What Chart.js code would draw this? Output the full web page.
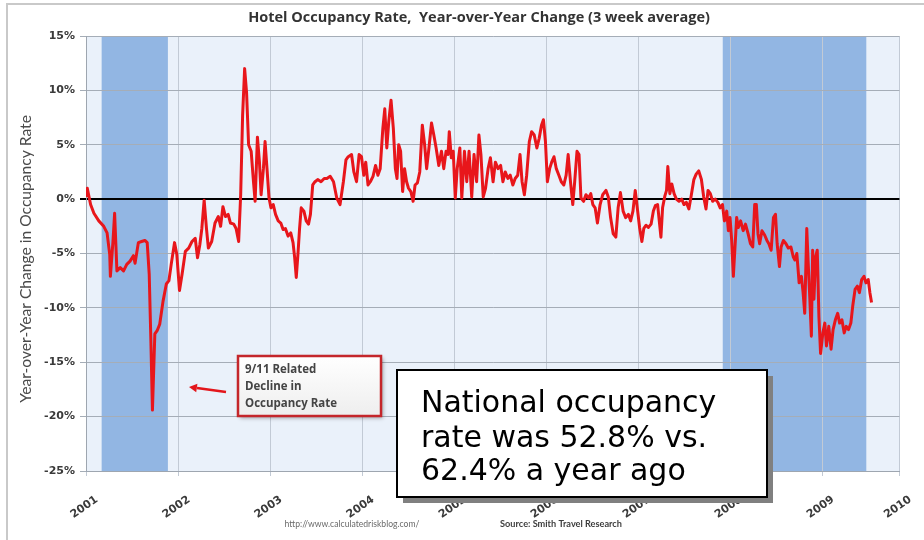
<!DOCTYPE html>
<html>
<head>
<meta charset="utf-8">
<script src="https://cdn.jsdelivr.net/npm/chart.js@4/dist/chart.umd.min.js"></script>
<style>
  html, body { margin: 0; padding: 0; background: #ffffff; }
  #wrap { width: 924px; height: 540px; }
</style>
</head>
<body>
<div id="wrap"><canvas id="chart" width="924" height="540"></canvas></div>
<script>
// Weekly hotel occupancy, year-over-year change (3 week average), in percent.
// Dates are decimal years.
const weekYear = [
  2001.000, 2001.014, 2001.050, 2001.086, 2001.139, 2001.193, 2001.229, 2001.258, 2001.265, 2001.293,
  2001.311, 2001.336, 2001.372, 2001.408, 2001.443, 2001.479, 2001.515, 2001.533, 2001.569, 2001.604,
  2001.640, 2001.665, 2001.687, 2001.705, 2001.722, 2001.748, 2001.773, 2001.801, 2001.837, 2001.873,
  2001.901, 2001.926, 2001.962, 2001.987, 2002.016, 2002.044, 2002.080, 2002.116, 2002.152, 2002.187,
  2002.212, 2002.237, 2002.259, 2002.284, 2002.309, 2002.330, 2002.366, 2002.402, 2002.438, 2002.463,
  2002.488, 2002.516, 2002.545, 2002.570, 2002.606, 2002.631, 2002.659, 2002.681, 2002.702, 2002.724,
  2002.745, 2002.767, 2002.795, 2002.820, 2002.838, 2002.863, 2002.885, 2002.903, 2002.928, 2002.946,
  2002.967, 2002.989, 2003.010, 2003.035, 2003.060, 2003.089, 2003.117, 2003.142, 2003.167, 2003.196,
  2003.225, 2003.250, 2003.268, 2003.285, 2003.303, 2003.321, 2003.339, 2003.368, 2003.393, 2003.418,
  2003.439, 2003.464, 2003.489, 2003.518, 2003.554, 2003.589,
  2003.618, 2003.654, 2003.690, 2003.725, 2003.761, 2003.797, 2003.825, 2003.850, 2003.886, 2003.911,
  2003.940, 2003.968, 2003.994, 2004.019, 2004.040, 2004.065, 2004.090, 2004.119, 2004.147, 2004.172,
  2004.197, 2004.226, 2004.247, 2004.269, 2004.290, 2004.315, 2004.340, 2004.362, 2004.380, 2004.398,
  2004.419, 2004.441, 2004.462, 2004.484, 2004.505, 2004.530, 2004.555, 2004.576, 2004.602, 2004.627,
  2004.655, 2004.680, 2004.702, 2004.727, 2004.755, 2004.780, 2004.805, 2004.834, 2004.863, 2004.888,
  2004.913, 2004.934, 2004.948, 2004.970, 2004.991, 2005.013, 2005.034, 2005.063, 2005.084, 2005.113,
  2005.138, 2005.163, 2005.192, 2005.217, 2005.245, 2005.270, 2005.292, 2005.317, 2005.342, 2005.370,
  2005.395, 2005.424, 2005.449, 2005.478, 2005.506, 2005.531, 2005.556, 2005.585, 2005.610, 2005.639,
  2005.664, 2005.692, 2005.717, 2005.739, 2005.764, 2005.789, 2005.818, 2005.843, 2005.871, 2005.900,
  2005.925, 2005.950, 2005.971, 2005.993, 2006.014, 2006.039, 2006.061, 2006.086, 2006.111, 2006.139,
  2006.165, 2006.193, 2006.218, 2006.240, 2006.265, 2006.290, 2006.311, 2006.336, 2006.358, 2006.379,
  2006.408, 2006.433, 2006.461, 2006.486, 2006.508, 2006.533, 2006.558, 2006.587, 2006.615,
  2006.651, 2006.676, 2006.701, 2006.730, 2006.758, 2006.783, 2006.808, 2006.837, 2006.865, 2006.894,
  2006.919, 2006.944, 2006.969, 2006.991, 2007.016, 2007.041, 2007.062, 2007.087, 2007.112, 2007.141,
  2007.166, 2007.187, 2007.212, 2007.230, 2007.248, 2007.266, 2007.291, 2007.309, 2007.323, 2007.345,
  2007.366, 2007.391, 2007.416, 2007.445, 2007.474, 2007.499, 2007.524, 2007.552, 2007.577, 2007.606,
  2007.631, 2007.659, 2007.688, 2007.713, 2007.738, 2007.760, 2007.785, 2007.810, 2007.838, 2007.867,
  2007.892, 2007.917, 2007.938, 2007.963, 2007.981, 2007.999, 2008.017, 2008.035, 2008.053, 2008.071,
  2008.089, 2008.114, 2008.142, 2008.167, 2008.196, 2008.221, 2008.246, 2008.267, 2008.285, 2008.303,
  2008.321, 2008.346, 2008.375, 2008.400, 2008.421, 2008.446, 2008.471, 2008.493, 2008.511, 2008.536,
  2008.554, 2008.579, 2008.607, 2008.632, 2008.661, 2008.686, 2008.704, 2008.725, 2008.750, 2008.775,
  2008.793, 2008.811, 2008.833, 2008.847, 2008.865, 2008.883, 2008.897, 2008.911, 2008.929, 2008.947,
  2008.965, 2008.983, 2009.008, 2009.029, 2009.047, 2009.072, 2009.097, 2009.119, 2009.144, 2009.169,
  2009.190, 2009.215, 2009.240, 2009.262, 2009.287, 2009.312, 2009.333, 2009.358, 2009.383, 2009.405,
  2009.430, 2009.455, 2009.476, 2009.501, 2009.519, 2009.537
];

const occupancyChange = [
  0.2, 1.0, -0.5, -1.3, -2.0, -2.5, -3.1, -5.1, -7.1, -3.9,
  -1.3, -6.6, -6.3, -6.6, -6.0, -5.7, -5.2, -5.9, -4.0, -3.9,
  -3.8, -4.0, -6.9, -13.0, -19.4, -12.4, -12.1, -11.5, -9.4, -7.8,
  -7.5, -6.0, -4.0, -5.1, -8.4, -6.9, -4.8, -4.5, -3.9, -3.6,
  -5.4, -4.2, -2.7, -0.1, -2.7, -4.5, -3.9, -2.2, -1.6, -2.5,
  -0.7, -1.6, -1.4, -2.2, -2.3, -2.7, -3.9, 0.4, 7.7, 12.0,
  9.8, 5.0, 4.4, 1.6, -0.2, 5.7, 3.4, 0.4, 2.8, 5.3,
  2.8, 0.1, -0.8, -0.5, -1.4, -2.0, -2.2, -2.8, -2.7, -3.4,
  -3.1, -4.0, -5.4, -7.2, -5.1, -2.7, -0.8, -1.1, -2.0, -2.3,
  -1.4, 1.3, 1.6, 1.8, 1.6, 1.9,
  1.9, 2.1, 1.6, 0.1, -0.5, 1.6, 3.6, 3.9, 4.1, 2.5,
  1.6, 4.1, 3.9, 2.2, 3.4, 1.3, 1.6, 2.1, 3.1, 2.2,
  2.8, 6.5, 8.3, 4.7, 7.1, 9.1, 6.5, 2.8, 1.9, 5.0,
  4.4, 0.7, 2.8, 1.6, 1.0, 0.7, -0.2, 1.3, 1.5, 2.5,
  6.8, 5.0, 2.8, 4.7, 7.0, 5.9, 4.7, 3.1, 4.4, 2.8,
  4.4, 4.1, 6.2, 3.8, 4.4, 0.1, 2.8, 4.7, 0.1, 4.4,
  1.6, 4.4, 0.2, 4.1, 1.6, 5.9, 4.1, 0.2, 1.0, 2.8,
  3.8, 1.6, 3.4, 2.8, 3.1, 1.6, 2.5, 1.9, 2.2, 1.3,
  1.9, 2.2, 4.1, 1.6, 0.4, 2.2, 5.3, 6.2, 5.9, 4.7,
  5.6, 6.8, 7.3, 5.3, 1.6, 2.8, 3.4, 3.9, 2.8, 2.2,
  1.6, 1.3, 2.2, 4.1, 1.6, -0.5, 1.6, 4.4, 4.1, 0.1,
  -0.2, 0.4, 0.1, 0.5, -0.5, -0.8, -2.2, -0.5, 0.4,
  0.8, 0.2, -1.7, -3.2, -3.5, -0.8, 0.6, -1.1, -1.7, -1.4,
  -2.0, -1.1, 0.8, -0.8, -2.6, -3.9, -2.7, -2.4, -2.6, -2.3,
  -1.1, -0.6, -0.5, -2.0, -3.5, -0.8, 0.3, 0.8, 3.0, 0.5,
  1.4, 0.5, 0.0, -0.2, 0.0, -0.5, -0.3, -0.9, 0.3, 1.8,
  2.3, 2.6, 1.8, 0.2, -0.9, 0.8, 0.5, -0.2, 0.0, -0.3,
  -0.8, -0.5, -2.0, -1.1, -2.9, -1.7, -3.8, -7.1, -4.4, -1.7,
  -2.6, -2.0, -2.9, -2.3, -3.2, -4.1, -4.4, -0.5, -0.5, -3.2,
  -4.1, -2.9, -3.3, -3.8, -4.1, -4.7, -1.7, -1.4, -4.1, -6.2,
  -4.4, -3.8, -4.1, -4.5, -4.4, -5.3, -5.6, -5.0, -7.7, -7.1,
  -8.6, -10.5, -2.7, -5.6, -8.9, -12.6, -4.7, -9.2, -5.3, -4.7,
  -10.8, -14.2, -12.3, -11.4, -13.5, -11.7, -13.8, -12.0, -11.1, -10.5,
  -11.4, -11.1, -12.3, -11.7, -12.0, -11.4, -9.8, -8.3, -8.0, -8.6,
  -7.4, -7.1, -7.7, -7.4, -8.6, -9.5
];

// Recessions (shaded)
const recessionStart = [2001.17, 2007.92];
const recessionEnd = [2001.89, 2009.48];

// Horizontal axis: yearly ticks, the last one at the right end of the axis
const yearTickValues = [2001, 2002, 2003, 2004, 2005, 2006, 2007, 2008, 2009, 2009.84];
const yearTickLabels = ['2001', '2002', '2003', '2004', '2005', '2006', '2007', '2008', '2009', '2010'];

const titleText = 'Hotel Occupancy Rate,  Year-over-Year Change (3 week average)';
const yAxisTitle = 'Year-over-Year Change in Occupancy Rate';
const calloutLines = ['9/11 Related', 'Decline in', 'Occupancy Rate'];
const noteLines = ['National occupancy', 'rate was 52.8% vs.', '62.4% a year ago'];
const siteText = 'http://www.calculatedriskblog.com/';
const sourceText = 'Source: Smith Travel Research';

const PLOT_BG = '#eaf1fa';
const BAND = 'rgb(146,182,227)';

function fitSize(ctx, text, weight, family, width) {
  ctx.font = weight + ' 100px ' + family;
  return 100 * width / ctx.measureText(text).width;
}

const backdrop = {
  id: 'backdrop',
  beforeDraw(chart) {
    const { ctx, chartArea: a, scales: { x } } = chart;
    ctx.save();
    ctx.fillStyle = '#ffffff';
    ctx.fillRect(0, 0, chart.width, chart.height);
    // outer frame
    ctx.strokeStyle = '#c9c9c9';
    ctx.lineWidth = 2;
    ctx.beginPath();
    ctx.moveTo(7, chart.height);
    ctx.lineTo(7, 4);
    ctx.lineTo(chart.width, 4);
    ctx.stroke();
    // plot background
    ctx.fillStyle = PLOT_BG;
    ctx.fillRect(a.left, a.top, a.right - a.left, a.bottom - a.top);
    // recession bands
    ctx.fillStyle = BAND;
    for (let i = 0; i < recessionStart.length; i++) {
      const x0 = Math.max(a.left, x.getPixelForValue(recessionStart[i]));
      const x1 = Math.min(a.right, x.getPixelForValue(recessionEnd[i]));
      ctx.fillRect(x0, a.top, x1 - x0, a.bottom - a.top);
    }
    ctx.restore();
  }
};

const overlay = {
  id: 'overlay',
  afterDraw(chart) {
    const ctx = chart.ctx;
    ctx.save();

    // title
    let s = fitSize(ctx, titleText, 'bold', '"Open Sans"', 462);
    ctx.font = 'bold ' + s.toFixed(2) + 'px "Open Sans"';
    ctx.fillStyle = '#333333';
    ctx.textAlign = 'center';
    ctx.textBaseline = 'alphabetic';
    ctx.fillText(titleText, 479, 22);

    // vertical axis title
    s = fitSize(ctx, yAxisTitle, 'normal', 'Lato', 288);
    ctx.save();
    ctx.translate(31, 259);
    ctx.rotate(-Math.PI / 2);
    ctx.font = s.toFixed(2) + 'px Lato';
    ctx.fillStyle = '#4a4a4a';
    ctx.textAlign = 'center';
    ctx.fillText(yAxisTitle, 0, 0);
    ctx.restore();

    // footer
    s = fitSize(ctx, siteText, 'normal', 'Lato', 135);
    ctx.font = s.toFixed(2) + 'px Lato';
    ctx.fillStyle = '#6a6a6a';
    ctx.textAlign = 'center';
    ctx.fillText(siteText, 352, 527);
    s = fitSize(ctx, sourceText, 'bold', 'Lato', 122);
    ctx.font = 'bold ' + s.toFixed(2) + 'px Lato';
    ctx.fillStyle = '#3d3d3d';
    ctx.fillText(sourceText, 561, 527);

    // 9/11 callout box
    ctx.save();
    ctx.shadowColor = 'rgba(0,0,0,0.35)';
    ctx.shadowBlur = 4;
    ctx.shadowOffsetX = 2;
    ctx.shadowOffsetY = 2;
    const g = ctx.createLinearGradient(0, 356, 0, 416);
    g.addColorStop(0, '#ffffff');
    g.addColorStop(1, '#eeeeee');
    ctx.fillStyle = g;
    ctx.fillRect(238, 356, 143, 60);
    ctx.restore();
    ctx.strokeStyle = '#c4262b';
    ctx.lineWidth = 2.5;
    ctx.strokeRect(238, 356, 143, 60);
    s = fitSize(ctx, calloutLines[2], 'bold', '"Open Sans"', 92);
    ctx.font = 'bold ' + s.toFixed(2) + 'px "Open Sans"';
    ctx.fillStyle = '#444444';
    ctx.textAlign = 'left';
    ctx.fillText(calloutLines[0], 245, 373);
    ctx.fillText(calloutLines[1], 245, 390);
    ctx.fillText(calloutLines[2], 245, 407);

    // arrow towards the September 2001 drop
    ctx.strokeStyle = '#e3161b';
    ctx.fillStyle = '#e3161b';
    ctx.lineWidth = 2.5;
    ctx.beginPath();
    ctx.moveTo(226, 392);
    ctx.lineTo(197, 388);
    ctx.stroke();
    const ang = Math.atan2(388 - 392, 197 - 226);
    ctx.beginPath();
    ctx.moveTo(189, 387);
    ctx.lineTo(189 - 9 * Math.cos(ang + 0.5), 387 - 9 * Math.sin(ang + 0.5));
    ctx.lineTo(189 - 9 * Math.cos(ang - 0.5), 387 - 9 * Math.sin(ang - 0.5));
    ctx.closePath();
    ctx.fill();

    // occupancy note
    ctx.fillStyle = '#808080';
    ctx.fillRect(403, 376, 370, 127);
    ctx.fillStyle = '#ffffff';
    ctx.fillRect(397, 370, 370, 127);
    ctx.strokeStyle = '#000000';
    ctx.lineWidth = 2;
    ctx.strokeRect(397, 370, 370, 127);
    s = fitSize(ctx, noteLines[1], 'normal', '"DejaVu Sans"', 286);
    ctx.font = s.toFixed(2) + 'px "DejaVu Sans"';
    ctx.fillStyle = '#000000';
    ctx.textAlign = 'left';
    ctx.fillText(noteLines[0], 421, 412);
    ctx.fillText(noteLines[1], 421, 446.5);
    ctx.fillText(noteLines[2], 421, 480);

    ctx.restore();
  }
};

const tickFont = { family: '"DejaVu Sans"', weight: 'bold', size: 11 };

new Chart(document.getElementById('chart'), {
  type: 'line',
  data: {
    datasets: [{
      data: weekYear.map((x, i) => ({ x: x, y: occupancyChange[i] })),
      borderColor: '#e8161b',
      borderWidth: 3,
      pointRadius: 0,
      tension: 0,
      fill: false,
      borderJoinStyle: 'round'
    }]
  },
  options: {
    responsive: false,
    animation: false,
    devicePixelRatio: 1,
    layout: { padding: { top: 36, right: 14, left: 0, bottom: 0 } },
    plugins: { legend: { display: false }, tooltip: { enabled: false }, title: { display: false } },
    scales: {
      x: {
        type: 'linear',
        min: 2001,
        max: yearTickValues[yearTickValues.length - 1],
        afterBuildTicks(scale) { scale.ticks = yearTickValues.map(v => ({ value: v })); },
        afterFit(scale) { scale.height = 69; },
        ticks: {
          autoSkip: false,
          minRotation: 35,
          maxRotation: 35,
          padding: 17,
          labelOffset: 11,
          font: tickFont,
          color: '#3a3a3a',
          callback: (v, i) => yearTickLabels[i]
        },
        grid: { color: '#c2cad5', lineWidth: 1, tickLength: 5 },
        border: { color: '#9ea6b0' }
      },
      y: {
        min: -25,
        max: 15,
        afterFit(scale) { scale.width = 86; },
        ticks: { stepSize: 5, padding: 5, font: tickFont, color: '#3a3a3a', callback: v => v + '%' },
        grid: {
          color: c => (c.tick && c.tick.value === 0 ? '#000000' : '#a5adb7'),
          lineWidth: c => (c.tick && c.tick.value === 0 ? 2 : 1),
          tickLength: 6
        },
        border: { color: '#9ea6b0' }
      }
    }
  },
  plugins: [backdrop, overlay]
});
</script>
</body>
</html>
